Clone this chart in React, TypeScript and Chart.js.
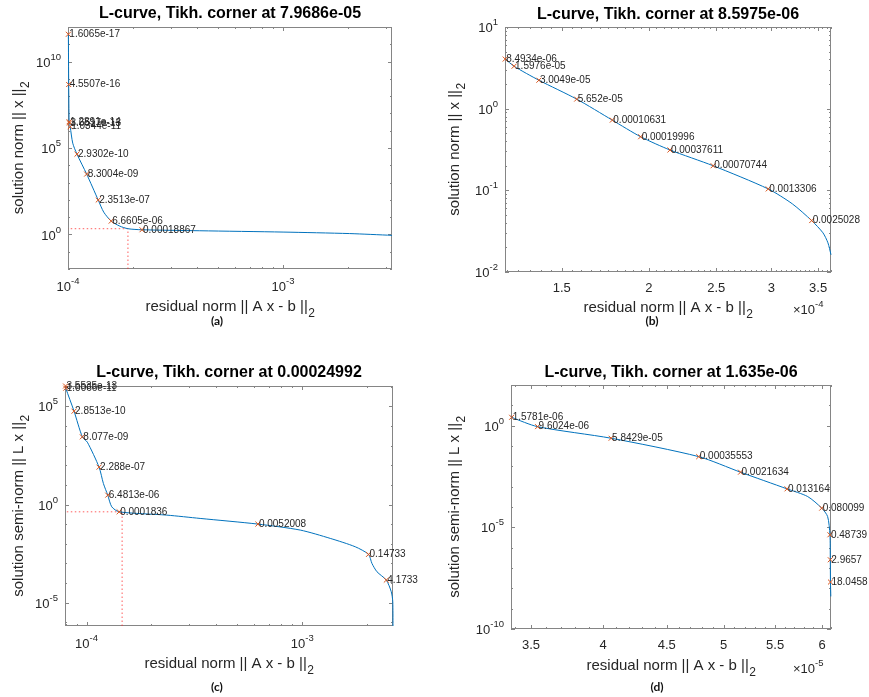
import React, { useEffect, useRef } from "react";
import { Chart, registerables } from "chart.js";
Chart.register(...registerables);

const W = 869;
const H = 697;
const FONT = '"Liberation Sans", Arial, Helvetica, sans-serif';

// ---------------- Panel (a) ----------------
const aTitle = "L-curve, Tikh. corner at 7.9686e-05";
const aCurveX = [1.004e-4, 1.0075e-4, 1.012e-4, 1.016e-4, 1.024e-4, 1.052e-4, 1.101e-4, 1.221e-4, 1.382e-4, 1.466e-4, 1.588e-4, 1.739e-4, 1.9e-4, 2.208e-4, 4.1e-4, 1e-3, 2.04e-3, 3.21e-3];
const aCurveY = [3.8e11, 4.7e8, 3.3e6, 2.8e6, 1.7e6, 1.9e5, 4.4e4, 3.1e3, 98, 19.5, 5.9, 3.05, 2.14, 1.86, 1.63, 1.37, 1.12, 0.885];
const aMarkX = [1.004e-4, 1.0075e-4, 1.012e-4, 1.016e-4, 1.024e-4, 1.101e-4, 1.221e-4, 1.382e-4, 1.588e-4, 2.208e-4];
const aMarkY = [3.8e11, 4.7e8, 3.3e6, 2.8e6, 1.7e6, 4.4e4, 3.1e3, 98, 5.9, 1.86];
const aMarkLabels = ["1.6065e-17", "4.5507e-16", "1.2891e-14", "3.6517e-13", "1.0344e-11", "2.9302e-10", "8.3004e-09", "2.3513e-07", "6.6605e-06", "0.00018867"];
const aCorner = [1.9e-4, 2.14];
const aXTicks = [1e-4, 1e-3];
const aXTickLabels = ["-4", "-3"];
const aXMinor = [2e-4, 3e-4, 4e-4, 5e-4, 6e-4, 7e-4, 8e-4, 9e-4, 2e-3, 3e-3];
const aYTicks = [1e0, 1e5, 1e10];
const aYTickLabels = ["0", "5", "10"];
const aYMinor = [1e-2, 1e-1, 1e1, 1e2, 1e3, 1e4, 1e6, 1e7, 1e8, 1e9, 1e11, 1e12];

// ---------------- Panel (b) ----------------
const bTitle = "L-curve, Tikh. corner at 8.5975e-06";
const bCurveX = [1.2437e-4, 1.2815e-4, 1.391e-4, 1.576e-4, 1.773e-4, 1.947e-4, 2.145e-4, 2.474e-4, 2.968e-4, 3.214e-4, 3.426e-4, 3.556e-4, 3.615e-4, 3.652e-4];
const bCurveY = [4.08, 3.31, 2.23, 1.31, 0.724, 0.453, 0.312, 0.2, 0.104, 0.0683, 0.0426, 0.0302, 0.0228, 0.01626];
const bMarkX = [1.2445e-4, 1.2815e-4, 1.391e-4, 1.576e-4, 1.773e-4, 1.947e-4, 2.145e-4, 2.474e-4, 2.968e-4, 3.426e-4];
const bMarkY = [4.05, 3.31, 2.23, 1.31, 0.724, 0.453, 0.312, 0.2, 0.104, 0.0426];
const bMarkLabels = ["8.4934e-06", "1.5976e-05", "3.0049e-05", "5.652e-05", "0.00010631", "0.00019996", "0.00037611", "0.00070744", "0.0013306", "0.0025028"];
const bXTicks = [1.5e-4, 2e-4, 2.5e-4, 3e-4, 3.5e-4];
const bXTickLabels = ["1.5", "2", "2.5", "3", "3.5"];
const bYTicks = [1e-2, 1e-1, 1e0, 1e1];
const bYTickLabels = ["-2", "-1", "0", "1"];

// ---------------- Panel (c) ----------------
const cTitle = "L-curve, Tikh. corner at 0.00024992";
const cCurveX = [7.99e-5, 8.01e-5, 8.75e-5, 9.56e-5, 1.0086e-4, 1.143e-4, 1.197e-4, 1.254e-4, 1.309e-4, 1.416e-4, 2.355e-4, 3.363e-4, 6.23e-4, 9.79e-4, 1.349e-3, 1.762e-3, 2.03e-3, 2.105e-3, 2.221e-3, 2.454e-3, 2.588e-3, 2.63e-3, 2.636e-3];
const cCurveY = [1.07e6, 8.3e5, 5.6e4, 2.77e3, 1.48e3, 79.6, 11.8, 3.0, 0.764, 0.425, 0.289, 0.196, 0.101, 0.0501, 0.0189, 7.08e-3, 2.9e-3, 1.01e-3, 3.8e-4, 1.43e-4, 3.63e-5, 1.12e-5, 6.6e-7];
const cMarkX = [7.99e-5, 8.01e-5, 8.75e-5, 9.56e-5, 1.143e-4, 1.254e-4, 1.416e-4, 6.23e-4, 2.03e-3, 2.454e-3];
const cMarkY = [1.07e6, 8.3e5, 5.6e4, 2.77e3, 79.6, 3.0, 0.425, 0.101, 2.9e-3, 1.43e-4];
const cMarkLabels = ["3.5535e-13", "1.0066e-11", "2.8513e-10", "8.077e-09", "2.288e-07", "6.4813e-06", "0.0001836", "0.0052008", "0.14733", "4.1733"];
const cCorner = [1.462e-4, 0.425];
const cXTicks = [1e-4, 1e-3];
const cXTickLabels = ["-4", "-3"];
const cXMinor = [8e-5, 9e-5, 2e-4, 3e-4, 4e-4, 5e-4, 6e-4, 7e-4, 8e-4, 9e-4, 2e-3];
const cYTicks = [1e-5, 1e0, 1e5];
const cYTickLabels = ["-5", "0", "5"];
const cYMinor = [1e-6, 1e-4, 1e-3, 1e-2, 1e-1, 1e1, 1e2, 1e3, 1e4, 1e6];

// ---------------- Panel (d) ----------------
const dTitle = "L-curve, Tikh. corner at 1.635e-06";
const dCurveX = [3.373e-5, 3.377e-5, 3.543e-5, 4.06e-5, 4.775e-5, 5.159e-5, 5.623e-5, 5.842e-5, 5.996e-5, 6.062e-5, 6.088e-5, 6.092e-5, 6.094e-5, 6.098e-5];
const dCurveY = [3.0, 2.59, 0.895, 0.241, 0.03, 5.15e-3, 7.8e-4, 3.27e-4, 8.8e-5, 3.4e-5, 4.3e-6, 2.54e-7, 2.04e-8, 4e-9];
const dMarkX = [3.377e-5, 3.543e-5, 4.06e-5, 4.775e-5, 5.159e-5, 5.623e-5, 5.996e-5, 6.088e-5, 6.092e-5, 6.094e-5];
const dMarkY = [2.59, 0.895, 0.241, 0.03, 5.15e-3, 7.8e-4, 8.8e-5, 4.3e-6, 2.54e-7, 2.04e-8];
const dMarkLabels = ["1.5781e-06", "9.6024e-06", "5.8429e-05", "0.00035553", "0.0021634", "0.013164", "0.080099", "0.48739", "2.9657", "18.0458"];
const dXTicks = [3.5e-5, 4e-5, 4.5e-5, 5e-5, 5.5e-5, 6e-5];
const dXTickLabels = ["3.5", "4", "4.5", "5", "5.5", "6"];
const dYTicks = [1e-10, 1e-5, 1e0];
const dYTickLabels = ["-10", "-5", "0"];
const dYMinor = [1e-9, 1e-8, 1e-7, 1e-6, 1e-4, 1e-3, 1e-2, 1e-1, 1e1, 1e2];

const bXMinor = Array.from({ length: 49 }, (_, i) => (1.25 + 0.05 * i) * 1e-4);
const bYMinor = [1e-2, 1e-1, 1e0].flatMap((d) => [2, 3, 4, 5, 6, 7, 8, 9].map((k) => k * d));
const dXMinor = Array.from({ length: 28 }, (_, i) => (3.4 + 0.1 * i) * 1e-5);

const X_TITLE = "residual norm || A x - b ||";

type PanelCfg = {
  area: [number, number, number, number];
  xr: [number, number];
  yr: [number, number];
  curveX: number[];
  curveY: number[];
  markX: number[];
  markY: number[];
  labels: string[];
  corner?: number[];
  title: string;
  titleY: number;
  xTitleY: number;
  yTitle: string;
  yTitleX: number;
  tag: string;
  tagPos: [number, number];
  xTicks: number[];
  xTickLabels: string[];
  xLog: boolean;
  xMinor: number[];
  yTicks: number[];
  yTickLabels: string[];
  yMinor: number[];
  mult?: { x: number; y: number; exp: string };
};

const panels: PanelCfg[] = [
  {
    area: [68, 27, 392, 269], xr: [1e-4, 3.21e-3], yr: [1e-2, 1e12],
    curveX: aCurveX, curveY: aCurveY, markX: aMarkX, markY: aMarkY, labels: aMarkLabels, corner: aCorner,
    title: aTitle, titleY: 14, xTitleY: 307, yTitle: "solution norm || x ||", yTitleX: 19,
    tag: "(a)", tagPos: [217, 321],
    xTicks: aXTicks, xTickLabels: aXTickLabels, xLog: true, xMinor: aXMinor,
    yTicks: aYTicks, yTickLabels: aYTickLabels, yMinor: aYMinor,
  },
  {
    area: [505, 27, 831, 272], xr: [1.2437e-4, 3.652e-4], yr: [1e-2, 1e1],
    curveX: bCurveX, curveY: bCurveY, markX: bMarkX, markY: bMarkY, labels: bMarkLabels,
    title: bTitle, titleY: 14.5, xTitleY: 308, yTitle: "solution norm || x ||", yTitleX: 455,
    tag: "(b)", tagPos: [652, 321],
    xTicks: bXTicks, xTickLabels: bXTickLabels, xLog: false, xMinor: bXMinor,
    yTicks: bYTicks, yTickLabels: bYTickLabels, yMinor: bYMinor,
    mult: { x: 793, y: 309, exp: "-4" },
  },
  {
    area: [65, 386, 393, 626], xr: [7.945e-5, 2.636e-3], yr: [6.6e-7, 1.07e6],
    curveX: cCurveX, curveY: cCurveY, markX: cMarkX, markY: cMarkY, labels: cMarkLabels, corner: cCorner,
    title: cTitle, titleY: 372.5, xTitleY: 664, yTitle: "solution semi-norm || L x ||", yTitleX: 19,
    tag: "(c)", tagPos: [217, 687],
    xTicks: cXTicks, xTickLabels: cXTickLabels, xLog: true, xMinor: cXMinor,
    yTicks: cYTicks, yTickLabels: cYTickLabels, yMinor: cYMinor,
  },
  {
    area: [511, 385, 831, 629], xr: [3.373e-5, 6.1e-5], yr: [1e-10, 1e2],
    curveX: dCurveX, curveY: dCurveY, markX: dMarkX, markY: dMarkY, labels: dMarkLabels,
    title: dTitle, titleY: 372.5, xTitleY: 666, yTitle: "solution semi-norm || L x ||", yTitleX: 455,
    tag: "(d)", tagPos: [657, 687],
    xTicks: dXTicks, xTickLabels: dXTickLabels, xLog: false, xMinor: dXMinor,
    yTicks: dYTicks, yTickLabels: dYTickLabels, yMinor: dYMinor,
    mult: { x: 793, y: 668, exp: "-5" },
  },
];

const TXT = "#262626";
const BOX = "#858585";

function powText(ctx: CanvasRenderingContext2D, x: number, y: number, base: string, exp: string | null, align: string) {
  ctx.font = `13px ${FONT}`;
  const wb = ctx.measureText(base).width;
  let we = 0;
  if (exp) {
    ctx.font = `9.5px ${FONT}`;
    we = ctx.measureText(exp).width;
  }
  const total = wb + we;
  const x0 = align === "center" ? x - total / 2 : align === "right" ? x - total : x;
  ctx.textAlign = "left";
  ctx.textBaseline = "middle";
  ctx.fillStyle = TXT;
  ctx.font = `13px ${FONT}`;
  ctx.fillText(base, x0, y);
  if (exp) {
    ctx.font = `9.5px ${FONT}`;
    ctx.fillText(exp, x0 + wb, y - 6);
  }
}

function subText(ctx: CanvasRenderingContext2D, cx: number, cy: number, main: string, sub: string, rotate: boolean) {
  ctx.save();
  ctx.translate(cx, cy);
  if (rotate) ctx.rotate(-Math.PI / 2);
  ctx.fillStyle = TXT;
  ctx.textAlign = "left";
  ctx.textBaseline = "middle";
  ctx.font = `15px ${FONT}`;
  const wm = ctx.measureText(main).width;
  ctx.font = `12px ${FONT}`;
  const ws = ctx.measureText(sub).width;
  const x0 = -(wm + ws) / 2;
  ctx.font = `15px ${FONT}`;
  ctx.fillText(main, x0, 0);
  ctx.font = `12px ${FONT}`;
  ctx.fillText(sub, x0 + wm + 0.5, 6.5);
  ctx.restore();
}

function makePlugin(p: PanelCfg) {
  return {
    id: "panelDeco",
    beforeDatasetsDraw(chart: any) {
      const ctx: CanvasRenderingContext2D = chart.ctx;
      const { left, top, right, bottom } = chart.chartArea;
      const xs = chart.scales.x;
      const ys = chart.scales.y;
      ctx.save();
      ctx.strokeStyle = BOX;
      ctx.lineWidth = 1;
      const tick = (vals: number[], len: number, axis: "x" | "y") => {
        vals.forEach((v) => {
          if (axis === "x") {
            if (v < p.xr[0] * 0.9999 || v > p.xr[1] * 1.0001) return;
            const px = Math.round(xs.getPixelForValue(v)) + 0.5;
            ctx.beginPath();
            ctx.moveTo(px, bottom);
            ctx.lineTo(px, bottom - len);
            ctx.moveTo(px, top);
            ctx.lineTo(px, top + len);
            ctx.stroke();
          } else {
            if (v < p.yr[0] * 0.9999 || v > p.yr[1] * 1.0001) return;
            const py = Math.round(ys.getPixelForValue(v)) + 0.5;
            ctx.beginPath();
            ctx.moveTo(left, py);
            ctx.lineTo(left + len, py);
            ctx.moveTo(right, py);
            ctx.lineTo(right - len, py);
            ctx.stroke();
          }
        });
      };
      tick(p.xMinor, 2, "x");
      tick(p.xTicks, 4, "x");
      tick(p.yMinor, 2, "y");
      tick(p.yTicks, 4, "y");
      ctx.strokeRect(left + 0.5, top + 0.5, right - left - 1, bottom - top - 1);
      ctx.restore();
    },
    afterDatasetsDraw(chart: any) {
      const ctx: CanvasRenderingContext2D = chart.ctx;
      const { left, top, right, bottom } = chart.chartArea;
      const xs = chart.scales.x;
      const ys = chart.scales.y;
      ctx.save();
      // marker labels
      ctx.fillStyle = TXT;
      ctx.font = `10px ${FONT}`;
      ctx.textAlign = "left";
      ctx.textBaseline = "middle";
      p.labels.forEach((t, i) => {
        const px = xs.getPixelForValue(p.markX[i]);
        const py = ys.getPixelForValue(p.markY[i]);
        ctx.fillText(t, px + 1, py);
      });
      // x tick labels
      p.xTicks.forEach((v, i) => {
        const px = xs.getPixelForValue(v);
        if (p.xLog) powText(ctx, px, bottom + 18, "10", p.xTickLabels[i], "center");
        else powText(ctx, px, bottom + 16, p.xTickLabels[i], null, "center");
      });
      // y tick labels
      p.yTicks.forEach((v, i) => {
        const py = ys.getPixelForValue(v);
        powText(ctx, left - 7, py + 1.5, "10", p.yTickLabels[i], "right");
      });
      // multiplier
      if (p.mult) {
        ctx.font = `13px ${FONT}`;
        ctx.fillStyle = TXT;
        ctx.textAlign = "left";
        ctx.textBaseline = "middle";
        ctx.fillText("\u00d7", p.mult.x, p.mult.y + 1);
        const w = ctx.measureText("\u00d7").width;
        powText(ctx, p.mult.x + w, p.mult.y + 1, "10", p.mult.exp, "left");
      }
      // title
      ctx.fillStyle = "#000";
      ctx.font = `bold 16px ${FONT}`;
      ctx.textAlign = "center";
      ctx.textBaseline = "middle";
      ctx.fillText(p.title, (left + right) / 2, p.titleY);
      // axis titles
      subText(ctx, (left + right) / 2, p.xTitleY, X_TITLE, "2", false);
      subText(ctx, p.yTitleX, (top + bottom) / 2, p.yTitle, "2", true);
      // panel tag
      ctx.fillStyle = "#111";
      ctx.font = `bold 12px Lato, "Open Sans", ${FONT}`;
      ctx.textAlign = "center";
      ctx.textBaseline = "middle";
      ctx.fillText(p.tag, p.tagPos[0], p.tagPos[1]);
      ctx.restore();
    },
  };
}

function ChartPanel({ p }: { p: PanelCfg }) {
  const ref = useRef<HTMLCanvasElement | null>(null);
  useEffect(() => {
    if (!ref.current) return;
    const [L, T, R, B] = p.area;
    const datasets: any[] = [
      {
        data: p.markX.map((x, i) => ({ x, y: p.markY[i] })),
        showLine: false,
        pointStyle: "crossRot",
        pointRadius: 3.5,
        pointBorderWidth: 1,
        pointBorderColor: "#D95319",
        pointBackgroundColor: "#D95319",
        borderColor: "#D95319",
        clip: false,
      },
      {
        data: p.curveX.map((x, i) => ({ x, y: p.curveY[i] })),
        showLine: true,
        borderColor: "#0072BD",
        borderWidth: 1,
        pointRadius: 0,
        tension: 0.25,
        clip: 2,
      },
    ];
    if (p.corner) {
      datasets.push({
        data: [
          { x: p.corner[0], y: p.yr[0] },
          { x: p.corner[0], y: p.corner[1] },
          { x: p.xr[0], y: p.corner[1] },
        ],
        showLine: true,
        borderColor: "rgba(255,40,40,0.75)",
        borderWidth: 1,
        borderDash: [1.5, 2.5],
        pointRadius: 0,
        tension: 0,
      });
    }
    const chart = new Chart(ref.current, {
      type: "scatter",
      data: { datasets },
      options: {
        animation: false,
        responsive: false,
        devicePixelRatio: 1,
        events: [],
        layout: { padding: { left: L, top: T, right: W - R, bottom: H - B } },
        plugins: { legend: { display: false }, tooltip: { enabled: false }, title: { display: false } },
        scales: {
          x: { type: "logarithmic", min: p.xr[0], max: p.xr[1], display: false },
          y: { type: "logarithmic", min: p.yr[0], max: p.yr[1], display: false },
        },
      },
      plugins: [makePlugin(p)],
    } as any);
    return () => chart.destroy();
  }, [p]);
  return (
    <canvas
      ref={ref}
      width={W}
      height={H}
      style={{ position: "absolute", left: 0, top: 0, width: W, height: H }}
    />
  );
}

export default function App() {
  return (
    <div style={{ position: "fixed", left: 0, top: 0, width: W, height: H, background: "#fff", overflow: "hidden" }}>
      {panels.map((p, i) => (
        <ChartPanel key={i} p={p} />
      ))}
    </div>
  );
}
